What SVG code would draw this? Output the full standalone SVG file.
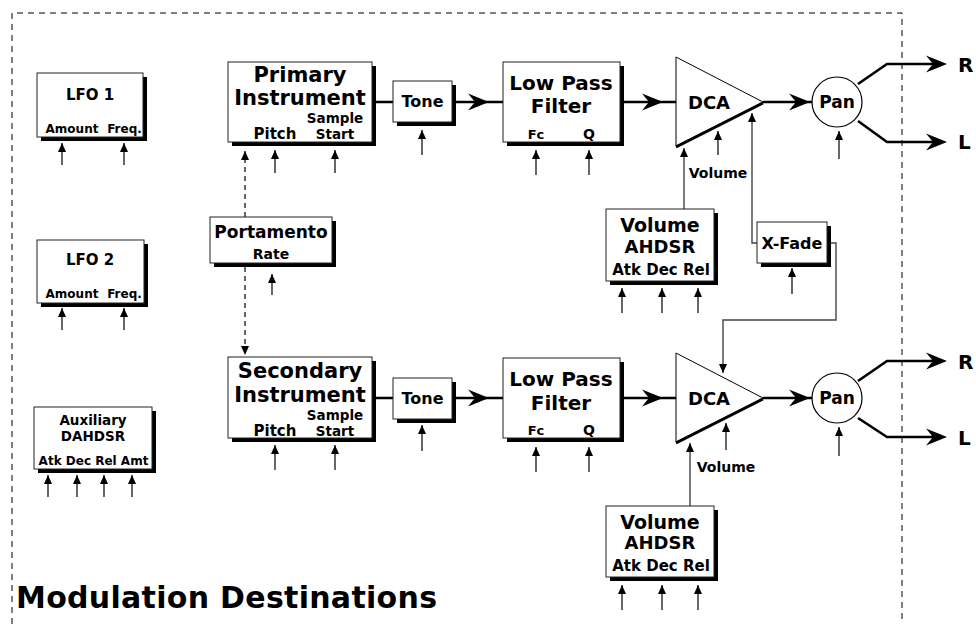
<svg xmlns="http://www.w3.org/2000/svg" xmlns:xlink="http://www.w3.org/1999/xlink" width="976" height="624" viewBox="0 0 976 624">
<style>
.box{fill:#fff;stroke:#222;stroke-width:1}
.sh{fill:#000}
.t{font-family:"DejaVu Sans",sans-serif;font-weight:bold;fill:#000;text-anchor:middle}
.main{stroke:#000;stroke-width:2.6;fill:none}
.mod{stroke:#000;stroke-width:1.2;fill:none;marker-end:url(#ah)}
.link{stroke:#444;stroke-width:1.4;fill:none;marker-end:url(#ah)}
.dash{stroke:#000;stroke-width:1.2;fill:none;stroke-dasharray:5 4;marker-end:url(#ah)}
.border{stroke:#000;stroke-width:1;fill:none;stroke-dasharray:6 5}
</style>
<defs>
<marker id="ah" markerUnits="userSpaceOnUse" markerWidth="10" markerHeight="8" refX="9" refY="4" orient="auto"><path d="M0,0 L9,4 L0,8 Z" fill="#000"/></marker>
<path id="dart" d="M0,0 L-21,-8.5 L-14,0 L-21,8.5 Z" fill="#000"/>
</defs>
<path class="border" d="M12,624 V13 H902 V624"/>

<g id="connectors">
<path class="main" d="M372,102 H393 M452,102 H503 M624,102 H676 M763,102 H812"/>
<use xlink:href="#dart" x="489" y="102"/><use xlink:href="#dart" x="663" y="102"/><use xlink:href="#dart" x="810" y="102"/>
<path class="main" d="M858,84 L887,64 H940 M858,121 L887,142 H940"/>
<use xlink:href="#dart" x="947" y="64"/><use xlink:href="#dart" x="947" y="142"/>
<path class="main" d="M372,398 H393 M452,398 H503 M624,398 H676 M763,398 H812"/>
<use xlink:href="#dart" x="489" y="398"/><use xlink:href="#dart" x="663" y="398"/><use xlink:href="#dart" x="810" y="398"/>
<path class="main" d="M858,381 L887,361 H940 M858,418 L887,437 H940"/>
<use xlink:href="#dart" x="947" y="361"/><use xlink:href="#dart" x="947" y="437"/>
<path class="dash" d="M245,217 V151"/>
<path class="dash" d="M245,267 V355"/>
<path class="link" d="M684,209 V148"/>
<path class="link" d="M757,243 H752 V113"/>
<path class="link" stroke="#000" d="M827,243 H836 V320 H723 V373"/>
<path class="link" d="M690,506 V443"/>
<line class="mod" x1="62" y1="165" x2="62" y2="143"/>
<line class="mod" x1="124" y1="165" x2="124" y2="143"/>
<line class="mod" x1="62" y1="330" x2="62" y2="308"/>
<line class="mod" x1="124" y1="330" x2="124" y2="308"/>
<line class="mod" x1="48" y1="497" x2="48" y2="475"/>
<line class="mod" x1="77" y1="497" x2="77" y2="475"/>
<line class="mod" x1="104" y1="497" x2="104" y2="475"/>
<line class="mod" x1="132" y1="497" x2="132" y2="475"/>
<line class="mod" x1="275" y1="173" x2="275" y2="150"/>
<line class="mod" x1="335" y1="173" x2="335" y2="150"/>
<line class="mod" x1="272" y1="295" x2="272" y2="274"/>
<line class="mod" x1="275" y1="470" x2="275" y2="445"/>
<line class="mod" x1="335" y1="470" x2="335" y2="445"/>
<line class="mod" x1="422" y1="155" x2="422" y2="130"/>
<line class="mod" x1="422" y1="451" x2="422" y2="425"/>
<line class="mod" x1="536" y1="175" x2="536" y2="150"/>
<line class="mod" x1="589" y1="175" x2="589" y2="150"/>
<line class="mod" x1="536" y1="472" x2="536" y2="447"/>
<line class="mod" x1="589" y1="472" x2="589" y2="447"/>
<line class="mod" x1="718" y1="155" x2="718" y2="131"/>
<line class="mod" x1="726" y1="450" x2="726" y2="423"/>
<line class="mod" x1="839" y1="159" x2="839" y2="131"/>
<line class="mod" x1="839" y1="456" x2="839" y2="427"/>
<line class="mod" x1="622" y1="313" x2="622" y2="288"/>
<line class="mod" x1="662" y1="313" x2="662" y2="288"/>
<line class="mod" x1="698" y1="313" x2="698" y2="288"/>
<line class="mod" x1="792" y1="294" x2="792" y2="268"/>
<line class="mod" x1="622" y1="610" x2="622" y2="585"/>
<line class="mod" x1="662" y1="610" x2="662" y2="585"/>
<line class="mod" x1="698" y1="610" x2="698" y2="585"/>
</g>

<g id="lfo1">
<rect class="sh" x="41" y="77" width="106" height="64"/><rect class="box" x="37" y="73" width="106" height="64"/>
<text class="t" x="90" y="100" font-size="15">LFO 1</text>
<text class="t" x="72" y="133" font-size="12">Amount</text><text class="t" x="124.5" y="133" font-size="12">Freq.</text>
</g>
<g id="lfo2">
<rect class="sh" x="41" y="244" width="107" height="63"/><rect class="box" x="37" y="240" width="107" height="63"/>
<text class="t" x="90" y="265" font-size="15">LFO 2</text>
<text class="t" x="72" y="298" font-size="12">Amount</text><text class="t" x="124.5" y="298" font-size="12">Freq.</text>
</g>
<g id="aux">
<rect class="sh" x="38" y="411" width="118" height="62"/><rect class="box" x="34" y="407" width="118" height="62"/>
<text class="t" x="93" y="425" font-size="13.5">Auxiliary</text>
<text class="t" x="93" y="441" font-size="13.5">DAHDSR</text>
<text class="t" x="93.5" y="465" font-size="12">Atk Dec Rel Amt</text>
</g>
<g id="primary">
<rect class="sh" x="232" y="66" width="144" height="80"/><rect class="box" x="228" y="62" width="144" height="80"/>
<text class="t" x="300" y="82" font-size="21">Primary</text>
<text class="t" x="300" y="105" font-size="21">Instrument</text>
<text class="t" x="275" y="139" font-size="15">Pitch</text>
<text class="t" x="335" y="123" font-size="13.5">Sample</text>
<text class="t" x="335" y="139" font-size="13.5">Start</text>
</g>
<g id="tone1">
<rect class="sh" x="397" y="85" width="59" height="41"/><rect class="box" x="393" y="81" width="59" height="41"/>
<text class="t" x="422.5" y="107" font-size="16">Tone</text>
</g>
<g id="lpf1">
<rect class="sh" x="507" y="66" width="117" height="80"/><rect class="box" x="503" y="62" width="117" height="80"/>
<text class="t" x="561" y="90" font-size="20">Low Pass</text>
<text class="t" x="561" y="113" font-size="20">Filter</text>
<text class="t" x="536" y="139" font-size="13">Fc</text>
<text class="t" x="589" y="139" font-size="14">Q</text>
</g>
<g id="dca1">
<polygon points="676,57 763,102 676,146" fill="#fff" stroke="#000" stroke-width="1"/>
<line x1="676" y1="147" x2="763" y2="103" stroke="#000" stroke-width="3"/>
<text class="t" x="709" y="109" font-size="18">DCA</text>
<text class="t" x="718" y="178" font-size="14">Volume</text>
</g>
<g id="pan1">
<circle cx="837" cy="102" r="25" fill="#fff" stroke="#000" stroke-width="1.2"/>
<text class="t" x="837" y="108" font-size="17">Pan</text>
<text class="t" x="958" y="72" font-size="20" style="text-anchor:start">R</text>
<text class="t" x="958" y="149" font-size="20" style="text-anchor:start">L</text>
</g>
<g id="vol1">
<rect class="sh" x="610" y="213" width="108" height="72"/><rect class="box" x="606" y="209" width="108" height="72"/>
<text class="t" x="660" y="232" font-size="19">Volume</text>
<text class="t" x="660" y="253" font-size="18">AHDSR</text>
<text class="t" x="661" y="275" font-size="15">Atk Dec Rel</text>
</g>
<g id="xfade">
<rect class="sh" x="761" y="226" width="70" height="41"/><rect class="box" x="757" y="222" width="70" height="41"/>
<text class="t" x="792" y="249" font-size="16">X-Fade</text>
</g>
<g id="portamento">
<rect class="sh" x="214" y="221" width="122" height="46"/><rect class="box" x="210" y="217" width="122" height="46"/>
<text class="t" x="271" y="238" font-size="17">Portamento</text>
<text class="t" x="271" y="259" font-size="14">Rate</text>
</g>
<g id="secondary">
<rect class="sh" x="232" y="361" width="144" height="81"/><rect class="box" x="228" y="357" width="144" height="81"/>
<text class="t" x="300" y="378" font-size="21">Secondary</text>
<text class="t" x="300" y="402" font-size="21">Instrument</text>
<text class="t" x="335" y="420" font-size="13.5">Sample</text>
<text class="t" x="275" y="436" font-size="15">Pitch</text>
<text class="t" x="335" y="436" font-size="13.5">Start</text>
</g>
<g id="tone2">
<rect class="sh" x="397" y="382" width="59" height="41"/><rect class="box" x="393" y="378" width="59" height="41"/>
<text class="t" x="422.5" y="404" font-size="16">Tone</text>
</g>
<g id="lpf2">
<rect class="sh" x="507" y="362" width="117" height="80"/><rect class="box" x="503" y="358" width="117" height="80"/>
<text class="t" x="561" y="386" font-size="20">Low Pass</text>
<text class="t" x="561" y="410" font-size="20">Filter</text>
<text class="t" x="536" y="435" font-size="13">Fc</text>
<text class="t" x="589" y="435" font-size="14">Q</text>
</g>
<g id="dca2">
<polygon points="676,353 763,398 676,442" fill="#fff" stroke="#000" stroke-width="1"/>
<line x1="676" y1="443" x2="763" y2="399" stroke="#000" stroke-width="3"/>
<text class="t" x="709" y="405" font-size="18">DCA</text>
<text class="t" x="726" y="472" font-size="14">Volume</text>
</g>
<g id="pan2">
<circle cx="837" cy="398" r="25" fill="#fff" stroke="#000" stroke-width="1.2"/>
<text class="t" x="837" y="404" font-size="17">Pan</text>
<text class="t" x="958" y="369" font-size="20" style="text-anchor:start">R</text>
<text class="t" x="958" y="445" font-size="20" style="text-anchor:start">L</text>
</g>
<g id="vol2">
<rect class="sh" x="610" y="510" width="108" height="71"/><rect class="box" x="606" y="506" width="108" height="71"/>
<text class="t" x="660" y="529" font-size="19">Volume</text>
<text class="t" x="660" y="549" font-size="18">AHDSR</text>
<text class="t" x="661" y="571" font-size="15">Atk Dec Rel</text>
</g>
<g id="title">
<text class="t" x="16" y="608" font-size="30" style="text-anchor:start" textLength="421">Modulation Destinations</text>
</g>
</svg>
